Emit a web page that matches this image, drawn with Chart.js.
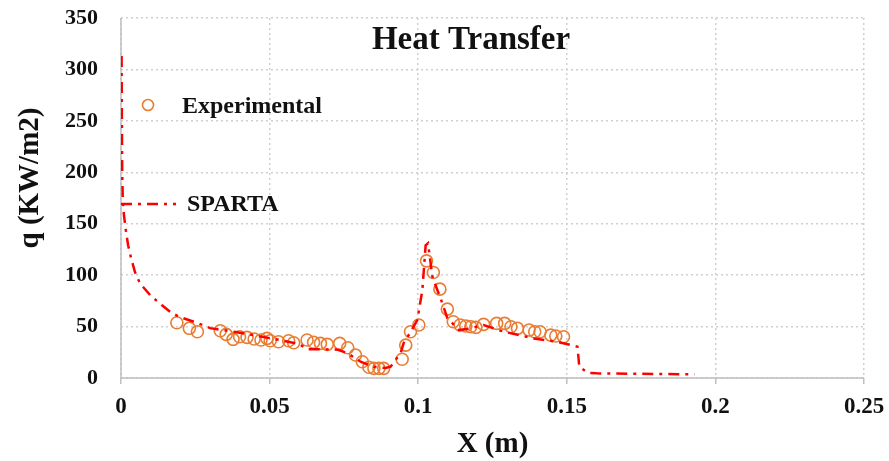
<!DOCTYPE html>
<html>
<head>
<meta charset="utf-8">
<script src="https://cdn.jsdelivr.net/npm/chart.js@4.4.1/dist/chart.umd.min.js"></script>
<style>
  html, body { margin: 0; padding: 0; background: #ffffff; }
  #wrap { width: 889px; height: 461px; position: relative; }
</style>
</head>
<body>
<div id="wrap"><canvas id="c" width="889" height="461"></canvas></div>
<script>
// ---- Data ----
const chartTitle = "Heat Transfer";
const xAxisTitle = "X (m)";
const yAxisTitle = "q (KW/m2)";
const seriesNames = ["Experimental", "SPARTA"];

const xTickLabels = ["0", "0.05", "0.1", "0.15", "0.2", "0.25"];
const yTickLabels = ["0", "50", "100", "150", "200", "250", "300", "350"];

const expX = [0.0188, 0.0230, 0.0257, 0.0334, 0.0354, 0.0377, 0.0399, 0.0424, 0.0448, 0.0471,
              0.0491, 0.0502, 0.0530, 0.0564, 0.0581, 0.0626, 0.0648, 0.0671, 0.0694, 0.0736,
              0.0763, 0.0789, 0.0812, 0.0834, 0.0851, 0.0868, 0.0884, 0.0946, 0.0958, 0.0974,
              0.1002, 0.1028, 0.1051, 0.1073, 0.1098, 0.1118, 0.1141, 0.1160, 0.1177, 0.1194,
              0.1220, 0.1264, 0.1291, 0.1312, 0.1334, 0.1373, 0.1392, 0.1410, 0.1446, 0.1463,
              0.1489];
const expY = [53.7, 48.3, 45.0, 45.9, 42.4, 37.6, 40.1, 39.5, 37.9, 36.9,
              38.5, 36.2, 35.2, 36.2, 34.3, 36.9, 34.7, 33.7, 32.7, 33.7,
              29.4, 22.3, 15.8, 10.4, 9.4, 9.4, 9.4, 18.2, 32.0, 45.0,
              51.5, 113.9, 102.6, 86.4, 67.0, 54.7, 51.5, 50.5, 49.8, 49.2,
              52.1, 53.1, 53.1, 49.8, 48.3, 46.6, 45.0, 45.0, 41.7, 40.8,
              40.1];

const spartaX = [0.0002, 0.0003, 0.0004, 0.0006, 0.0010, 0.0017, 0.0024, 0.0034, 0.0047, 0.0064,
                 0.0098, 0.0137, 0.0171, 0.0199, 0.0255, 0.0300, 0.0384, 0.0445, 0.0536, 0.0600,
                 0.0626, 0.0671, 0.0730, 0.0763, 0.0806, 0.0850, 0.0890, 0.0907, 0.0941, 0.0951,
                 0.0975, 0.0997, 0.1014, 0.1025, 0.1033, 0.1048, 0.1081, 0.1098, 0.1137, 0.1170,
                 0.1220, 0.1288, 0.1389, 0.1469, 0.1514, 0.1536, 0.1542, 0.1570, 0.1600, 0.1930];
const spartaY = [313, 250, 202, 173, 158, 142, 129, 116.5, 103, 92,
                 80.6, 70.9, 63.1, 59.2, 53.7, 48.5, 44.7, 41.7, 36.9, 33,
                 28, 28, 27.5, 24, 15.8, 11, 9.7, 11, 24.3, 34,
                 45, 56.3, 85.4, 129, 131, 98.3, 72.8, 58.3, 46.6, 48,
                 51.5, 45, 38.5, 35.2, 32, 30.4, 11, 5.1, 4.5, 3.6];

// ---- Styles ----
const FONT = "'Liberation Serif', 'Times New Roman', serif";
const ORANGE = "#E87D33";
const RED = "#FF0000";
const GRID = "#d0d0d0";
const AXIS = "#bfbfbf";
const DASHDOT = [11, 6, 3, 6];

const expData = expX.map((x, i) => ({ x: x, y: expY[i] }));
const spartaData = spartaX.map((x, i) => ({ x: x, y: spartaY[i] }));

const overlay = {
  id: 'overlay',
  beforeDatasetsDraw(chart) {
    const ctx = chart.ctx;
    const ca = chart.chartArea;
    ctx.save();
    // solid axis lines (left and bottom), under the data
    ctx.setLineDash([]);
    ctx.strokeStyle = AXIS;
    ctx.lineWidth = 1.5;
    ctx.beginPath();
    ctx.moveTo(ca.left, ca.top);
    ctx.lineTo(ca.left, ca.bottom);
    ctx.lineTo(ca.right, ca.bottom);
    ctx.stroke();
    ctx.restore();
  },
  afterDraw(chart) {
    const ctx = chart.ctx;
    const ca = chart.chartArea;
    ctx.save();
    ctx.fillStyle = '#111111';
    // title
    ctx.font = "bold 33px " + FONT;
    ctx.textAlign = 'center';
    ctx.textBaseline = 'alphabetic';
    ctx.fillText(chartTitle, 471, 49);
    // x axis title
    ctx.font = "bold 29px " + FONT;
    ctx.fillText(xAxisTitle, (ca.left + ca.right) / 2, 452);
    // y axis title
    ctx.save();
    ctx.translate(31, 178);
    ctx.rotate(-Math.PI / 2);
    ctx.textBaseline = 'middle';
    ctx.fillText(yAxisTitle, 0, 0);
    ctx.restore();
    // legend
    ctx.font = "bold 24px " + FONT;
    ctx.textAlign = 'left';
    ctx.textBaseline = 'alphabetic';
    ctx.fillText(seriesNames[0], 182, 113);
    ctx.fillText(seriesNames[1], 187, 211);
    ctx.beginPath();
    ctx.arc(148, 105, 5.5, 0, Math.PI * 2);
    ctx.strokeStyle = ORANGE;
    ctx.lineWidth = 1.6;
    ctx.stroke();
    ctx.beginPath();
    ctx.setLineDash(DASHDOT);
    ctx.moveTo(ca.left, 204);
    ctx.lineTo(176, 204);
    ctx.strokeStyle = RED;
    ctx.lineWidth = 2.5;
    ctx.stroke();
    ctx.restore();
  }
};

new Chart(document.getElementById('c'), {
  type: 'scatter',
  data: {
    datasets: [
      {
        label: seriesNames[0],
        data: expData,
        order: 2,
        showLine: false,
        pointStyle: 'circle',
        pointRadius: 6,
        pointBorderWidth: 1.6,
        pointBorderColor: ORANGE,
        pointBackgroundColor: 'rgba(0,0,0,0)',
        borderColor: ORANGE,
        backgroundColor: 'rgba(0,0,0,0)'
      },
      {
        label: seriesNames[1],
        data: spartaData,
        order: 1,
        showLine: true,
        tension: 0,
        pointRadius: 0,
        borderColor: RED,
        borderWidth: 2.5,
        borderDash: DASHDOT,
        backgroundColor: 'rgba(0,0,0,0)'
      }
    ]
  },
  options: {
    responsive: false,
    animation: false,
    devicePixelRatio: 1,
    layout: { padding: { left: 0, top: 18, right: 25, bottom: 0 } },
    plugins: {
      legend: { display: false },
      title: { display: false },
      tooltip: { enabled: false }
    },
    scales: {
      x: {
        type: 'linear',
        min: 0, max: 0.25,
        afterFit(s) { s.height = 83; s.paddingLeft = 0; s.paddingRight = 0; },
        afterBuildTicks(s) { s.ticks = xTickLabels.map(v => ({ value: parseFloat(v) })); },
        ticks: {
          callback: (v, i) => xTickLabels[i],
          color: '#111111',
          font: { family: FONT, size: 23, weight: 'bold' },
          padding: 9,
          maxRotation: 0,
          autoSkip: false
        },
        grid: {
          color: GRID,
          lineWidth: 1.5,
          drawTicks: true,
          tickLength: 6,
          tickColor: AXIS,
          tickBorderDash: [],
          tickWidth: 1.5
        },
        border: { display: false, dash: [2, 3] }
      },
      y: {
        type: 'linear',
        min: 0, max: 350,
        afterFit(s) { s.width = 121; s.paddingTop = 0; s.paddingBottom = 0; },
        afterBuildTicks(s) { s.ticks = yTickLabels.map(v => ({ value: parseFloat(v) })); },
        ticks: {
          callback: (v, i) => yTickLabels[i],
          color: '#111111',
          font: { family: FONT, size: 22, weight: 'bold' },
          padding: 23,
          autoSkip: false
        },
        grid: {
          color: GRID,
          lineWidth: 1.5,
          drawTicks: false
        },
        border: { display: false, dash: [2, 3] }
      }
    }
  },
  plugins: [overlay]
});
</script>
</body>
</html>
